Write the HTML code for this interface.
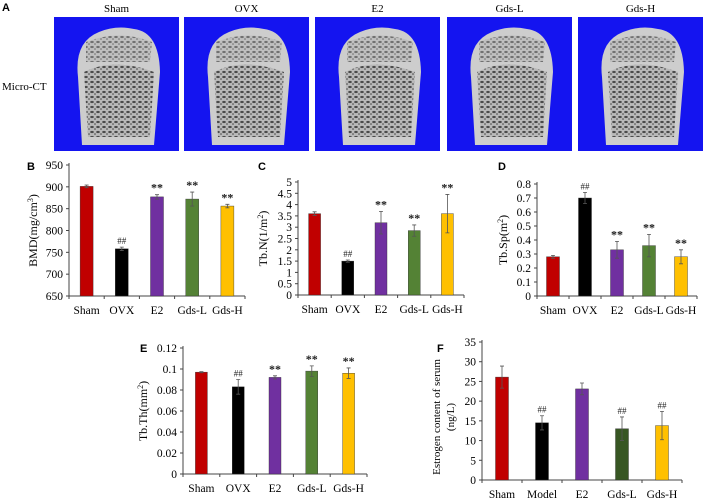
<!DOCTYPE html>
<html><head><meta charset="utf-8"><style>
html,body{margin:0;padding:0;background:#fff}
svg{display:block;font-family:"Liberation Serif",serif}
.pl{font-family:"Liberation Sans",sans-serif;font-weight:bold;font-size:11px}
</style></head><body>
<svg id="fig" width="708" height="501" viewBox="0 0 708 501">
<defs>
<pattern id="trab" width="6" height="5" patternUnits="userSpaceOnUse">
<rect width="6" height="5" fill="#b5b5b5"/>
<ellipse cx="2" cy="2" rx="1.8" ry="1.1" fill="#333"/>
<ellipse cx="5" cy="4" rx="1" ry="0.8" fill="#4a4a4a"/>
</pattern>
</defs>
<text class="pl" x="2" y="11">A</text>
<text x="2" y="90" font-size="11">Micro-CT</text>
<g id="ct"></g>
<g id="charts"></g>
</svg>
<script>
var ns="http://www.w3.org/2000/svg";
function mk(p,tag,a){var e=document.createElementNS(ns,tag);for(var k in a)e.setAttribute(k,a[k]);p.appendChild(e);return e;}

// Micro-CT panels
var ctGroups=["Sham","OVX","E2","Gds-L","Gds-H"];
var ctX=[54,184,315,447,578];
var ctG=document.getElementById('ct');
ctGroups.forEach(function(n,i){
  var x=ctX[i],y=17,w=125,h=134;
  var t=mk(ctG,'text',{x:x+w/2,y:12,'text-anchor':'middle','font-size':'11'});t.textContent=n;
  
  
  var r=mk(ctG,'rect',{x:x,y:y,width:w,height:h,fill:'#1414f0'});
  
  
  var d='M'+(x+28)+','+(y+128)+' L'+(x+24)+','+(y+60)+' Q'+(x+20)+','+(y+25)+' '+(x+45)+','+(y+15)+' Q'+(x+62)+','+(y+8)+' '+(x+80)+','+(y+12)+' Q'+(x+105)+','+(y+15)+' '+(x+106)+','+(y+55)+' L'+(x+100)+','+(y+128)+' Z';
  mk(ctG,'path',{d:d,fill:'#cdcdcd'});
  mk(ctG,'path',{d:'M'+(x+30)+','+(y+55)+' Q'+(x+60)+','+(y+40)+' '+(x+100)+','+(y+55)+' L'+(x+96)+','+(y+120)+' L'+(x+34)+','+(y+120)+' Z',fill:'url(#trab)',opacity:0.85});
  mk(ctG,'path',{d:'M'+(x+32)+','+(y+25)+' Q'+(x+65)+','+(y+12)+' '+(x+98)+','+(y+25)+' L'+(x+96)+','+(y+45)+' L'+(x+32)+','+(y+45)+' Z',fill:'url(#trab)',opacity:0.6});
});

// Chart data
var cats=["Sham","OVX","E2","Gds-L","Gds-H"];
var catsF=["Sham","Model","E2","Gds-L","Gds-H"];
var colors=["#c00000","#000000","#7030a0","#548235","#ffc000"];
var colorsF=["#c00000","#000000","#7030a0","#375623","#ffc000"];
var bmdVals=[901,758,877,872,856];
var bmdErr=[3,4,5,16,4];
var bmdMarks=["","##","**","**","**"];
var tbnVals=[3.6,1.5,3.2,2.85,3.6];
var tbnErr=[0.08,0.05,0.5,0.25,0.85];
var tbnMarks=["","##","**","**","**"];
var tbspVals=[0.28,0.70,0.33,0.36,0.28];
var tbspErr=[0.01,0.04,0.06,0.08,0.05];
var tbspMarks=["","##","**","**","**"];
var tbthVals=[0.097,0.083,0.092,0.098,0.096];
var tbthErr=[0.0005,0.007,0.0015,0.005,0.005];
var tbthMarks=["","##","**","**","**"];
var estVals=[26.1,14.5,23.1,13,13.8];
var estErr=[2.8,1.8,1.5,3,3.6];
var estMarks=["","##","","##","##"];
var bmdTicks=[650,700,750,800,850,900,950];
var tbnTicks=[0,0.5,1,1.5,2,2.5,3,3.5,4,4.5,5];
var tbspTicks=[0,0.1,0.2,0.3,0.4,0.5,0.6,0.7,0.8];
var tbthTicks=[0,0.02,0.04,0.06,0.08,0.1,0.12];
var estTicks=[0,5,10,15,20,25,30,35];

var CH=document.getElementById('charts');
function chart(o){
  var g=mk(CH,'g',{});
  
  
  var min=o.ticks[0],max=o.ticks[o.ticks.length-1];
  function ys(v){return o.y0-(v-min)/(max-min)*(o.y0-o.y1);}
  var n=o.cats.length,step=(o.x1-o.x0)/n;
  function xs(i){return o.x0+step*(i+0.5);}
  var L=mk(g,'text',{x:o.lx,y:o.ly,'font-family':'Liberation Sans,sans-serif','font-weight':'bold','font-size':'11'});L.textContent=o.letter;
  
  
  var ax=mk(g,'line',{x1:o.x0,y1:o.y1-2,x2:o.x0,y2:o.y0,stroke:'#444','stroke-width':1});
  
  
  var xa=mk(g,'line',{x1:o.x0,y1:o.y0,x2:o.x1,y2:o.y0,stroke:'#444','stroke-width':1});
  
  
  o.ticks.forEach(function(t){
    var y=ys(t);
    mk(g,'line',{x1:o.x0-3,y1:y,x2:o.x0,y2:y,stroke:'#444'});
    var tx=mk(g,'text',{x:o.x0-6,y:y+4,'text-anchor':'end','font-size':'11.5'});tx.textContent=String(t);
    
    
  });
  for(var i=0;i<=n;i++){var xx=o.x0+step*i;mk(g,'line',{x1:xx,y1:o.y0,x2:xx,y2:o.y0+3,stroke:'#444'});}
  o.vals.forEach(function(v,i){
    var cx=xs(i),y=ys(v),bw=o.bw;
    var b=mk(g,'rect',{x:cx-bw/2,y:y,width:bw,height:o.y0-y,fill:o.colors[i],stroke:'#333','stroke-width':0.4});
    
    
    var e=o.err[i],ya=ys(v+e),yb=ys(v-e);
    var eb=mk(g,'path',{d:'M'+cx+','+ya+'V'+yb+'M'+(cx-2)+','+ya+'H'+(cx+2)+'M'+(cx-2)+','+yb+'H'+(cx+2),stroke:'#555','stroke-width':0.8,fill:'none'});
    
    
    if(o.marks[i]){
      var m=mk(g,'text',{x:cx,y:ya-3,'text-anchor':'middle','font-size':o.marks[i]=='**'?'12':'9','font-weight':o.marks[i]=='**'?'bold':'normal',fill:'#222'});m.textContent=o.marks[i];
      
      
    }
    var cl=mk(g,'text',{x:cx,y:o.y0+18,'text-anchor':'middle','font-size':'11.5'});cl.textContent=o.cats[i];
    
    
  });
  var yc=(o.y0+o.y1)/2+(o.tdy||0);
  o.title.forEach(function(tl,k){
    var tx=o.tx+k*14;
    var tt=mk(g,'text',{x:tx,y:yc,'text-anchor':'middle','font-size':o.tfs||'12',transform:'rotate(-90 '+tx+' '+yc+')'});
    tt.innerHTML=tl;
    
    
  });
}
chart({name:'bmd-chart',letter:'B',lx:27,ly:170,x0:69,x1:245,y0:296,y1:165,ticks:bmdTicks,vals:bmdVals,err:bmdErr,marks:bmdMarks,cats:cats,colors:colors,bw:13,tx:37,title:['BMD(mg/cm<tspan baseline-shift="super" font-size="8">3</tspan>)']});
chart({name:'tbn-chart',letter:'C',lx:258,ly:170,x0:298,x1:464,y0:295,y1:182,ticks:tbnTicks,vals:tbnVals,err:tbnErr,marks:tbnMarks,cats:cats,colors:colors,bw:12,tx:267,title:['Tb.N(1/m<tspan baseline-shift="super" font-size="8">2</tspan>)']});
chart({name:'tbsp-chart',letter:'D',lx:498,ly:170,x0:537,x1:697,y0:296,y1:184,ticks:tbspTicks,vals:tbspVals,err:tbspErr,marks:tbspMarks,cats:cats,colors:colors,bw:13,tx:507,title:['Tb.Sp(m<tspan baseline-shift="super" font-size="8">2</tspan>)']});
chart({name:'tbth-chart',letter:'E',lx:140,ly:352,x0:183,x1:367,y0:474,y1:348,ticks:tbthTicks,vals:tbthVals,err:tbthErr,marks:tbthMarks,cats:cats,colors:colors,bw:12,tx:147,title:['Tb.Th(mm<tspan baseline-shift="super" font-size="8">2</tspan>)']});
chart({name:'estrogen-chart',letter:'F',lx:437,ly:352,x0:482,x1:682,y0:480,y1:342,ticks:estTicks,vals:estVals,err:estErr,marks:estMarks,cats:catsF,colors:colorsF,bw:13,tx:440,tfs:'11',tdy:6,title:['Estrogen content of serum','(ng/L)']});
</script>
</body></html>
